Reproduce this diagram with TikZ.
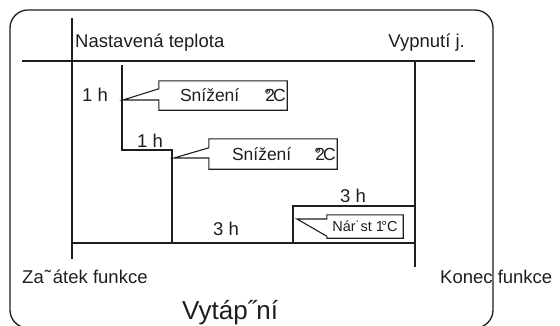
\documentclass[tikz,border=0pt]{standalone}
\usepackage{fontspec}
\setmainfont{Liberation Sans}
\usepackage{xcolor}
\usepackage{tikz}
\definecolor{diagink}{RGB}{30,30,30}
\tikzset{
  axis/.style={draw=diagink,line width=1.1pt},
  profile/.style={draw=diagink,line width=2.2pt},
  lbl/.style={inner sep=0pt,text=diagink,font=\fontsize{18.5}{21}\selectfont},
  cutbox/.style={inner sep=0pt,text=diagink,font=\fontsize{17.5}{20}\selectfont},
}

\begin{document}
\begin{tikzpicture}[x=1pt,y=-1pt]
  \useasboundingbox (0,0) rectangle (560,325);
  \draw[diagink,line width=1.3pt,rounded corners=18pt](10,10)rectangle(493,328);

  % time axes
  \coordinate (ax0) at (72,18);   \coordinate (ax1) at (72,259);
  \coordinate (tp0) at (22,61);   \coordinate (tp1) at (475,61);
  \coordinate (ex0) at (415,61);  \coordinate (ex1) at (415,267);
  \coordinate (bs0) at (72,243);  \coordinate (bs1) at (415,243);
  \draw[axis](ax0)--(ax1);
  \draw[axis](tp0)--(tp1);
  \draw[axis](ex0)--(ex1);
  \draw[axis](bs0)--(bs1);

  % temperature steps
  \coordinate (p0) at (122,65);  \coordinate (p1) at (172,150);
  \coordinate (p2) at (293,243); \coordinate (p3) at (415,206);
  \draw[profile](p0)|-(p1)|-(p2)|-(p3);
  \draw[profile](p2)--(bs1);

  \node[lbl,anchor=base west] (settemp) at (75,47) {Nastavená teplota};
  \node[lbl,anchor=base east] (unitoff) at (465,47) {Vypnutí j.};
  \node[lbl,anchor=base west] (hourA) at (82,101) {1 h};
  \node[lbl,anchor=base west] (hourB) at (137,147) {1 h};
  \node[lbl,anchor=base west] (hourC) at (213,235) {3 h};
  \node[lbl,anchor=base west] (hourD) at (340,202) {3 h};
  \node[lbl,anchor=base west] (fstart) at (22,283) {Za\kern1pt˜\kern2pt átek funkce};
  \node[lbl,anchor=base west] (fend) at (440,283) {Konec funkce};
  \node[lbl,anchor=base west,font=\fontsize{26}{30}\selectfont] (heat) at (182,319) {Vytáp˝ní};

  % callouts
  \node[cutbox,minimum width=128pt,minimum height=29pt] (cutA) at (223,95.5)
    {\makebox[128pt][l]{\hspace{21pt}Snížení\hspace{25pt}\rlap{°}\kern1pt 2\kern-2pt C}};
  \node[cutbox,minimum width=128pt,minimum height=30pt] (cutB) at (273,154)
    {\makebox[128pt][l]{\hspace{23pt}Snížení\hspace{23pt}\rlap{°}\kern1pt 2\kern-2pt C}};
  \node[cutbox,minimum width=76pt,minimum height=23pt,font=\fontsize{14.5}{16}\selectfont] (cutC) at (365,226.5)
    {Nár˙st 1\kern-2.5pt°C};
  \coordinate (tipA) at (123,100);
  \coordinate (tipB) at (174,158);
  \coordinate (tipC) at (297,219);
  \draw[axis](cutA.south west)|-(tipA)--([yshift=-8pt]cutA.north west)--(cutA.north west)
    --(cutA.north east)--(cutA.south east)--cycle;
  \draw[axis](cutB.south west)|-(tipB)--([yshift=-9pt]cutB.north west)--(cutB.north west)
    --(cutB.north east)--(cutB.south east)--cycle;
  \draw[axis](cutC.north west)|-(tipC)--([yshift=2pt]cutC.south west)--(cutC.south west)
    --(cutC.south east)--(cutC.north east)--cycle;
\end{tikzpicture}
\end{document}
